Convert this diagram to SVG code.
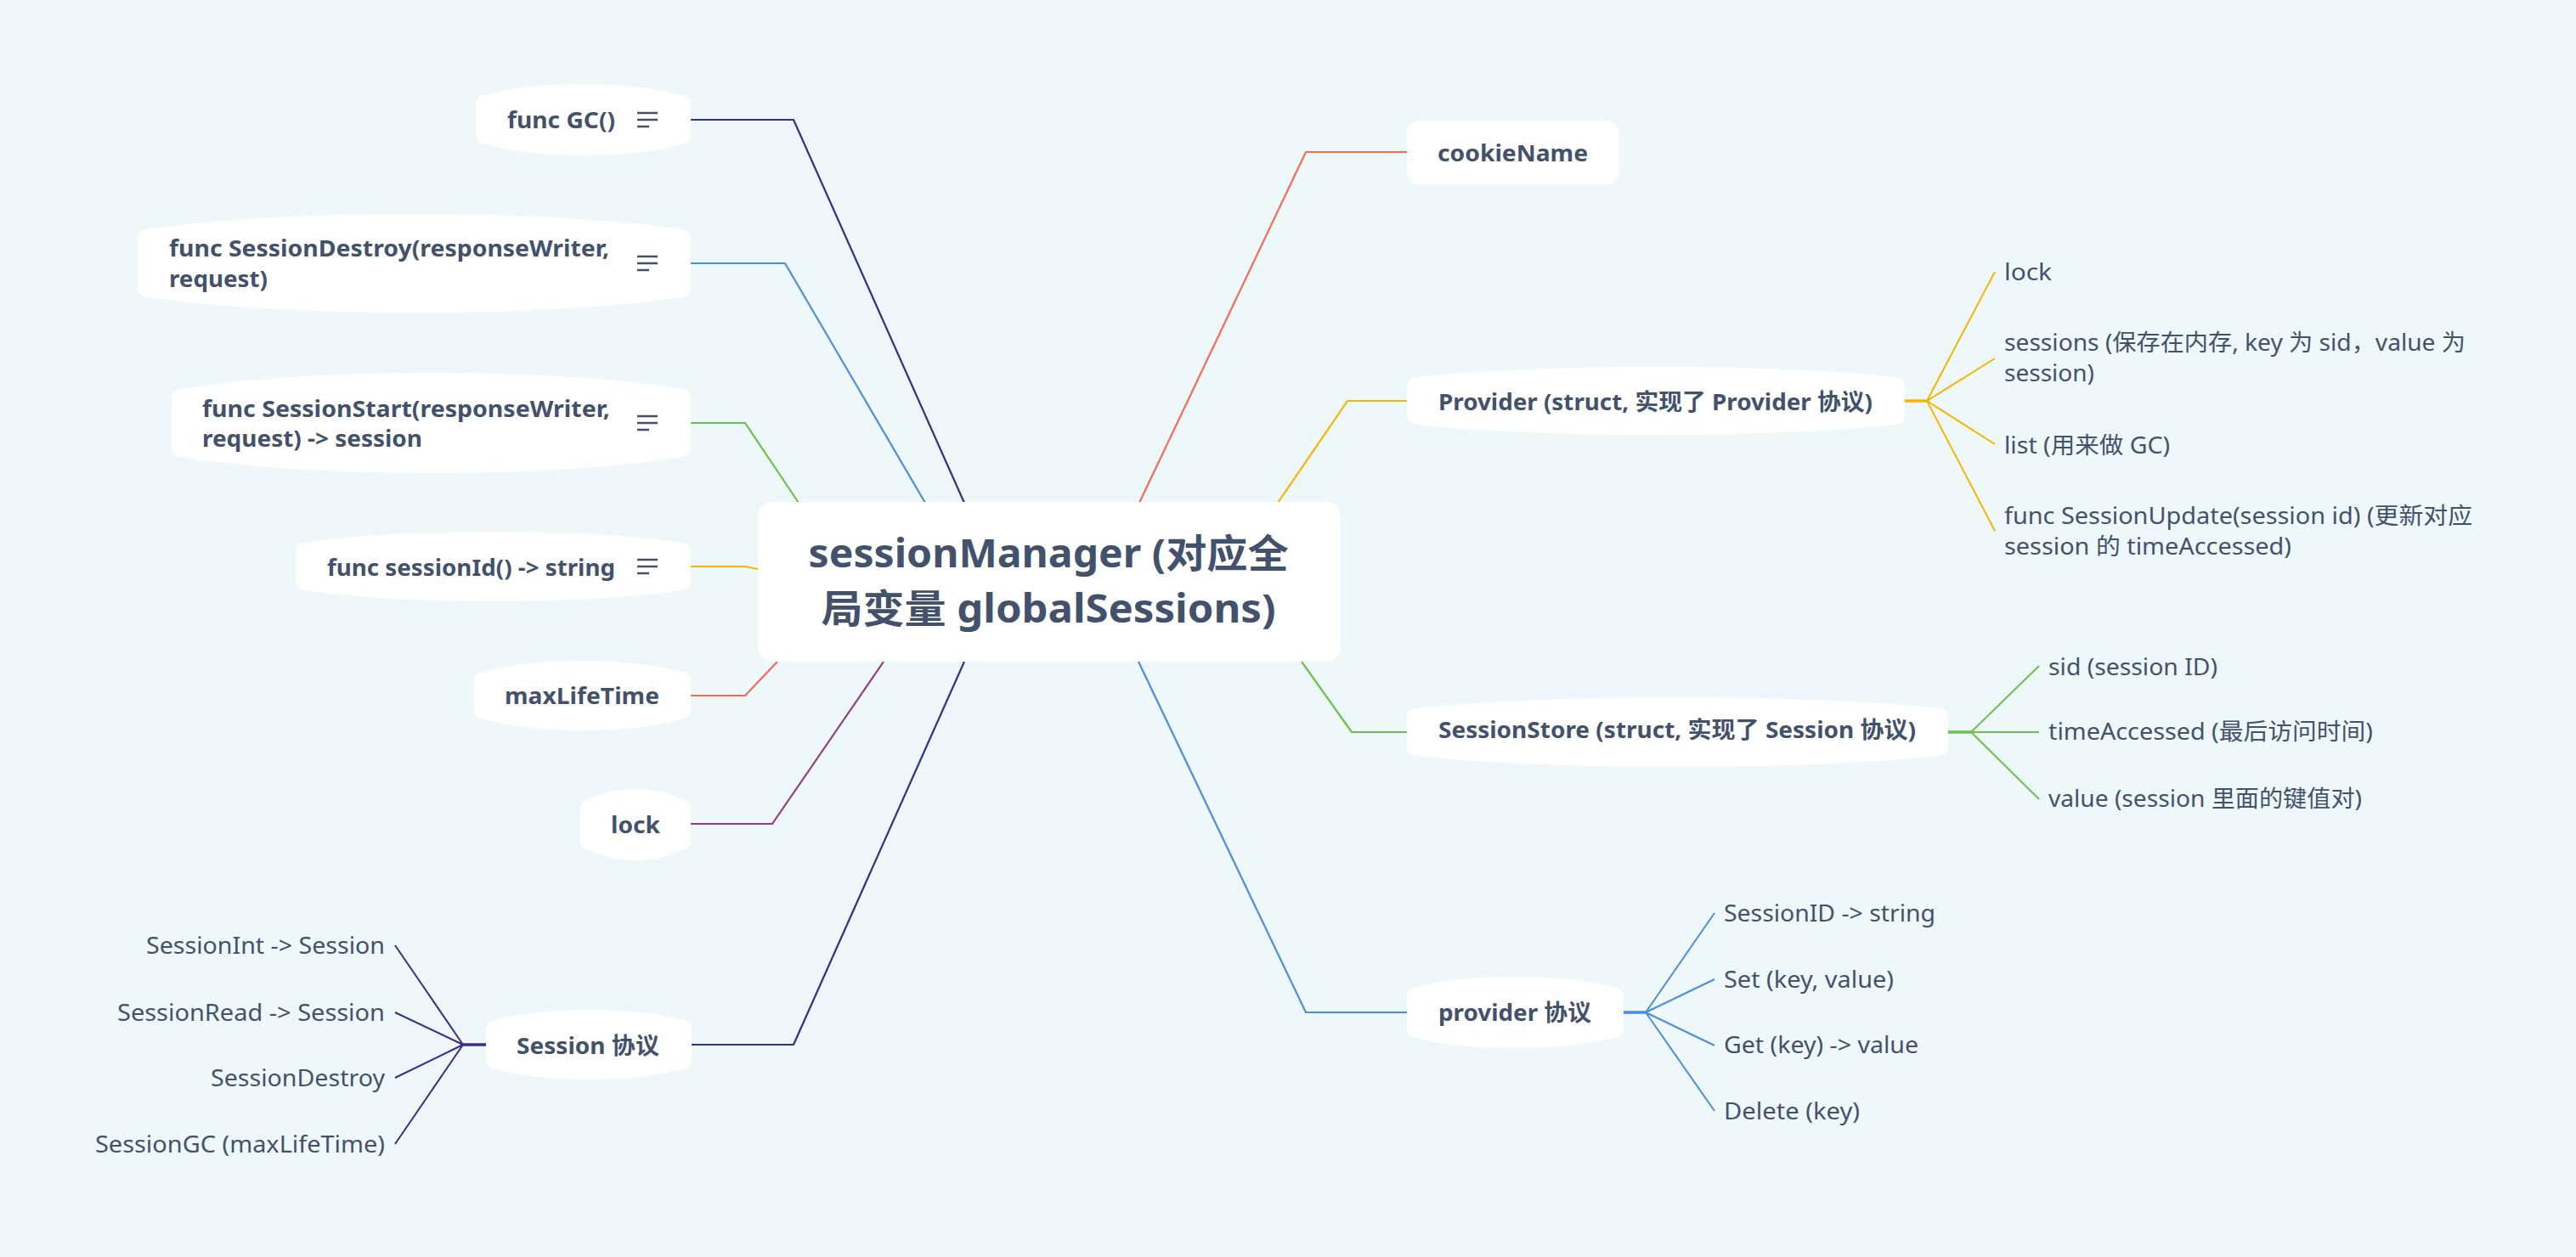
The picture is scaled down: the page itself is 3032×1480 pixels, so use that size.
<svg xmlns="http://www.w3.org/2000/svg" width="3032" height="1480" viewBox="0 0 3032 1480">
<style>
.bg{fill:#EEF7FA}
.node{fill:#FFFFFF}
.t{font-family:"Noto Sans","Noto Sans CJK SC",sans-serif;fill:#43526C}
.b{font-weight:700;font-size:27px}
.r{font-weight:400;font-size:27.5px}
.c{font-weight:700;font-size:46px}
.e{text-anchor:end}
.m{text-anchor:middle}
.ln{fill:none;stroke-width:2.2;stroke-linejoin:round}
.hub{fill:none;stroke-width:3.5}
.sub{fill:none;stroke-width:2}
.navy{stroke:#3B2C8E}
.blue{stroke:#4C8DE0}
.green{stroke:#6CC24A}
.yellow{stroke:#F7B500}
.red{stroke:#F56B55}
.purple{stroke:#8F3A8A}
.ic{stroke:#43526C;stroke-width:2.5}
</style>
<defs>
<g id="notes">
<line class="ic" x1="0" y1="0" x2="24" y2="0"/>
<line class="ic" x1="0" y1="8" x2="24" y2="8"/>
<line class="ic" x1="0" y1="16" x2="14" y2="16"/>
</g>
</defs>
<rect class="bg" x="0" y="0" width="3032" height="1480"/>

<g id="connectors">
<path class="ln navy" d="M813,141 H934 L1135,592"/>
<path class="ln blue" d="M813,310 H924 L1089,592"/>
<path class="ln green" d="M813,498 H877 L940,592"/>
<path class="ln yellow" d="M813,667 H877 L892,670"/>
<path class="ln red" d="M813,819 H877 L915,779"/>
<path class="ln purple" d="M813,970 H909 L1040,779"/>
<path class="ln navy" d="M814,1230 H934 L1135,779"/>
<path class="ln red" d="M1656,179 H1537 L1341,592"/>
<path class="ln yellow" d="M1656,472 H1586 L1504,592"/>
<path class="ln green" d="M1656,862 H1591 L1532,779"/>
<path class="ln blue" d="M1656,1192 H1537 L1340,779"/>
<path class="hub yellow" d="M2242,472 H2268"/>
<path class="sub yellow" d="M2268,472 L2348,320 M2268,472 L2348,422 M2268,472 L2348,523 M2268,472 L2348,625"/>
<path class="hub green" d="M2293,862 H2320"/>
<path class="sub green" d="M2320,862 L2400,784 M2320,862 L2400,862 M2320,862 L2400,941"/>
<path class="hub blue" d="M1911,1192 H1937"/>
<path class="sub blue" d="M1937,1192 L2018,1075 M1937,1192 L2018,1153 M1937,1192 L2018,1231 M1937,1192 L2018,1308"/>
<path class="hub navy" d="M572,1230 H545"/>
<path class="sub navy" d="M545,1230 L465,1113 M545,1230 L465,1192 M545,1230 L465,1269 M545,1230 L465,1347"/>
</g>

<g id="center">
<rect class="node" x="892" y="591" width="686" height="188" rx="16"/>
<text class="t c m" x="1234" y="668" textLength="565" lengthAdjust="spacingAndGlyphs">sessionManager (对应全</text>
<text class="t c m" x="1234" y="733" textLength="535" lengthAdjust="spacingAndGlyphs">局变量 globalSessions)</text>
</g>

<g id="func-gc">
<path class="node" d="M560,124 Q560,112 572,112 C629,94.7 744,94.7 801,112 Q813,112 813,124 L813,158 Q813,170 801,170 C744,187.3 629,187.3 572,170 Q560,170 560,158 Z"/>
<text class="t b" x="597" y="151" textLength="127" lengthAdjust="spacingAndGlyphs">func GC()</text>
<use href="#notes" x="750" y="133"/>
</g>

<g id="func-sessiondestroy">
<path class="node" d="M162,282 Q162,270 174,270 C331,246 644,246 801,270 Q813,270 813,282 L813,338 Q813,350 801,350 C644,374 331,374 174,350 Q162,350 162,338 Z"/>
<text class="t b" x="199" y="302" textLength="518" lengthAdjust="spacingAndGlyphs">func SessionDestroy(responseWriter,</text>
<text class="t b" x="199" y="338" textLength="116" lengthAdjust="spacingAndGlyphs">request)</text>
<use href="#notes" x="750" y="302"/>
</g>

<g id="func-sessionstart">
<path class="node" d="M202,470 Q202,458 214,458 C361,432.7 654,432.7 801,458 Q813,458 813,470 L813,526 Q813,538 801,538 C654,563.3 361,563.3 214,538 Q202,538 202,526 Z"/>
<text class="t b" x="238" y="491" textLength="480" lengthAdjust="spacingAndGlyphs">func SessionStart(responseWriter,</text>
<text class="t b" x="238" y="526" textLength="259" lengthAdjust="spacingAndGlyphs">request) -&gt; session</text>
<use href="#notes" x="750" y="490"/>
</g>

<g id="func-sessionid">
<path class="node" d="M348,651 Q348,639 360,639 C470,621.7 691,621.7 801,639 Q813,639 813,651 L813,683 Q813,695 801,695 C691,712.3 470,712.3 360,695 Q348,695 348,683 Z"/>
<text class="t b" x="385" y="678" textLength="339" lengthAdjust="spacingAndGlyphs">func sessionId() -&gt; string</text>
<use href="#notes" x="750" y="659"/>
</g>

<g id="maxlifetime">
<path class="node" d="M558,803 Q558,791 570,791 C628,773.7 743,773.7 801,791 Q813,791 813,803 L813,835 Q813,847 801,847 C743,864.3 628,864.3 570,847 Q558,847 558,835 Z"/>
<text class="t b" x="594" y="829" textLength="182" lengthAdjust="spacingAndGlyphs">maxLifeTime</text>
</g>

<g id="lock-left">
<path class="node" d="M683,953 Q683,941 695,941 C721.5,925 774.5,925 801,941 Q813,941 813,953 L813,989 Q813,1001 801,1001 C774.5,1017 721.5,1017 695,1001 Q683,1001 683,989 Z"/>
<text class="t b" x="719" y="981" textLength="58" lengthAdjust="spacingAndGlyphs">lock</text>
</g>

<g id="session-protocol">
<path class="node" d="M572,1213 Q572,1201 584,1201 C638.5,1185 747.5,1185 802,1201 Q814,1201 814,1213 L814,1247 Q814,1259 802,1259 C747.5,1275 638.5,1275 584,1259 Q572,1259 572,1247 Z"/>
<text class="t b" x="608" y="1241" textLength="168" lengthAdjust="spacingAndGlyphs">Session 协议</text>
</g>

<g id="session-protocol-items">
<text class="t r e" x="453" y="1123" textLength="281" lengthAdjust="spacingAndGlyphs">SessionInt -&gt; Session</text>
<text class="t r e" x="453" y="1202" textLength="315" lengthAdjust="spacingAndGlyphs">SessionRead -&gt; Session</text>
<text class="t r e" x="453" y="1279" textLength="205" lengthAdjust="spacingAndGlyphs">SessionDestroy</text>
<text class="t r e" x="453" y="1357" textLength="341" lengthAdjust="spacingAndGlyphs">SessionGC (maxLifeTime)</text>
</g>

<g id="cookiename">
<rect class="node" x="1656" y="142" width="250" height="75" rx="15"/>
<text class="t b" x="1692" y="190" textLength="177" lengthAdjust="spacingAndGlyphs">cookieName</text>
</g>

<g id="provider-struct">
<path class="node" d="M1656,456 Q1656,444 1668,444 C1808.5,428 2089.5,428 2230,444 Q2242,444 2242,456 L2242,488 Q2242,500 2230,500 C2089.5,516 1808.5,516 1668,500 Q1656,500 1656,488 Z"/>
<text class="t b" x="1693" y="483" textLength="511" lengthAdjust="spacingAndGlyphs">Provider (struct, 实现了 Provider 协议)</text>
</g>

<g id="provider-struct-items">
<text class="t r" x="2359" y="330" textLength="56" lengthAdjust="spacingAndGlyphs">lock</text>
<text class="t r" x="2359" y="413" textLength="543" lengthAdjust="spacingAndGlyphs">sessions (保存在内存, key 为 sid，value 为</text>
<text class="t r" x="2359" y="449" textLength="106" lengthAdjust="spacingAndGlyphs">session)</text>
<text class="t r" x="2359" y="534" textLength="195" lengthAdjust="spacingAndGlyphs">list (用来做 GC)</text>
<text class="t r" x="2359" y="617" textLength="551" lengthAdjust="spacingAndGlyphs">func SessionUpdate(session id) (更新对应</text>
<text class="t r" x="2359" y="653" textLength="338" lengthAdjust="spacingAndGlyphs">session 的 timeAccessed)</text>
</g>

<g id="sessionstore">
<path class="node" d="M1656,846 Q1656,834 1668,834 C1821,816.7 2128,816.7 2281,834 Q2293,834 2293,846 L2293,878 Q2293,890 2281,890 C2128,907.3 1821,907.3 1668,890 Q1656,890 1656,878 Z"/>
<text class="t b" x="1693" y="869" textLength="562" lengthAdjust="spacingAndGlyphs">SessionStore (struct, 实现了 Session 协议)</text>
</g>

<g id="sessionstore-items">
<text class="t r" x="2411" y="795" textLength="199" lengthAdjust="spacingAndGlyphs">sid (session ID)</text>
<text class="t r" x="2411" y="871" textLength="382" lengthAdjust="spacingAndGlyphs">timeAccessed (最后访问时间)</text>
<text class="t r" x="2411" y="950" textLength="369" lengthAdjust="spacingAndGlyphs">value (session 里面的键值对)</text>
</g>

<g id="provider-protocol">
<path class="node" d="M1656,1174 Q1656,1162 1668,1162 C1726,1146 1841,1146 1899,1162 Q1911,1162 1911,1174 L1911,1210 Q1911,1222 1899,1222 C1841,1238 1726,1238 1668,1222 Q1656,1222 1656,1210 Z"/>
<text class="t b" x="1693" y="1202" textLength="180" lengthAdjust="spacingAndGlyphs">provider 协议</text>
</g>

<g id="provider-protocol-items">
<text class="t r" x="2029" y="1085" textLength="249" lengthAdjust="spacingAndGlyphs">SessionID -&gt; string</text>
<text class="t r" x="2029" y="1163" textLength="200" lengthAdjust="spacingAndGlyphs">Set (key, value)</text>
<text class="t r" x="2029" y="1240" textLength="229" lengthAdjust="spacingAndGlyphs">Get (key) -&gt; value</text>
<text class="t r" x="2029" y="1318" textLength="160" lengthAdjust="spacingAndGlyphs">Delete (key)</text>
</g>
</svg>
